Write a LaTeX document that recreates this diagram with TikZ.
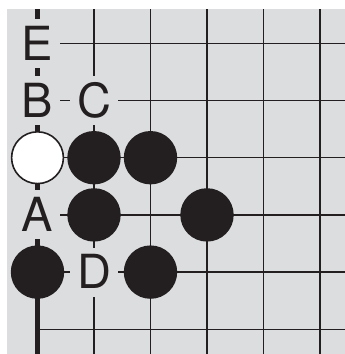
\documentclass[tikz,border=0pt]{standalone}
\usepackage{fontspec}
\setmainfont{TeX Gyre Heros}
\definecolor{board}{RGB}{220,221,223}
\definecolor{ink}{RGB}{35,31,32}
\begin{document}
\begin{tikzpicture}[x=1pt,y=-1pt,
  gridline/.style={ink,line width=1.3pt},
  edgeline/.style={ink,line width=5pt},
  blackstone/.style={circle,fill=ink,minimum size=53.4pt,inner sep=0pt},
  whitestone/.style={circle,fill=white,draw=ink,line width=1.6pt,minimum size=51.8pt,inner sep=0pt},
  lbl/.style={fill=board,inner xsep=7pt,inner ysep=0pt,minimum height=49pt,
    text height=33.7pt,text depth=0pt,font=\fontsize{47}{47}\selectfont,text=ink}]
\useasboundingbox (0,0) rectangle (345,354);
\fill[board] (7,9) rectangle (345,354);
\foreach \x in {94,150.5,207,263.5,320} \draw[gridline] (\x,9) -- (\x,354);
\foreach \y in {43.3,100.5,157.7,214.9,272.1,329.3} \draw[gridline] (37.5,\y) -- (345,\y);
\draw[edgeline] (37.5,9) -- (37.5,354);
% labels
\node[lbl] (E) at (37.5,43.3) {E};
\node[lbl] (B) at (37.5,100.5) {B};
\node[lbl] (C) at (94,100.5) {C};
\node[lbl] (A) at (37.5,214.9) {A};
\node[lbl] (D) at (94,272.1) {D};
% stones
\node[whitestone] (w1) at (37.5,157.7) {};
\node[blackstone] (b1) at (94,157.7) {};
\node[blackstone] (b2) at (150.5,157.7) {};
\node[blackstone] (b3) at (94,214.9) {};
\node[blackstone] (b4) at (207,214.9) {};
\node[blackstone] (b5) at (37.5,272.1) {};
\node[blackstone] (b6) at (150.5,272.1) {};
\end{tikzpicture}
\end{document}
